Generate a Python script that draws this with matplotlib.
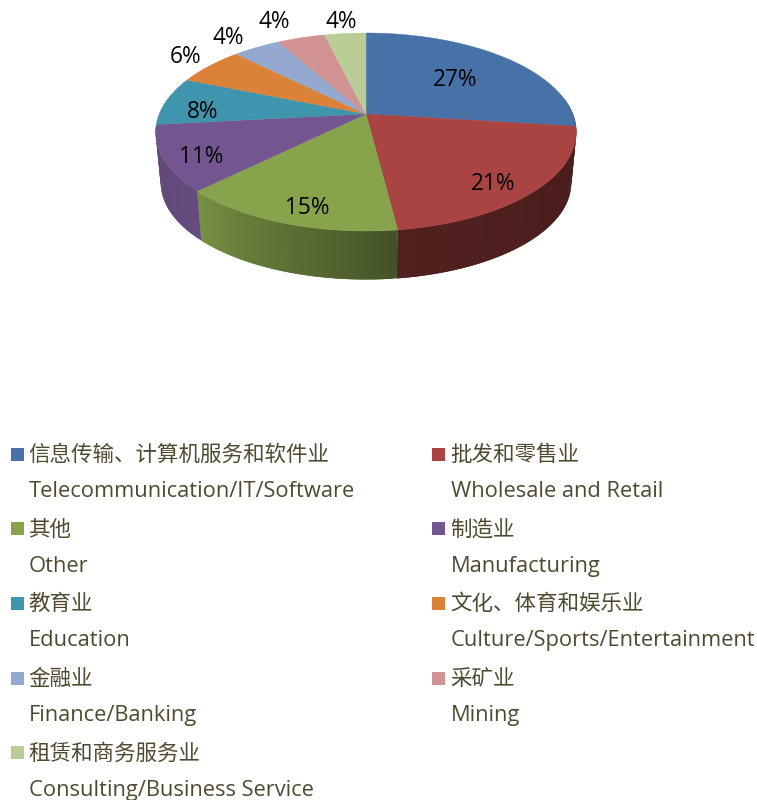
import numpy as np
import matplotlib
matplotlib.use("Agg")
import matplotlib.pyplot as plt
from matplotlib.patches import Polygon, Rectangle

cn_labels = ["信息传输、计算机服务和软件业", "批发和零售业", "其他", "制造业", "教育业",
             "文化、体育和娱乐业", "金融业", "采矿业", "租赁和商务服务业"]
en_labels = ["Telecommunication/IT/Software", "Wholesale and Retail", "Other", "Manufacturing",
             "Education", "Culture/Sports/Entertainment", "Finance/Banking", "Mining",
             "Consulting/Business Service"]
values = [27.0, 21.0, 14.6, 10.7, 7.9, 6.3, 4.3, 4.4, 3.8]
colors = ["#4672A8", "#A94442", "#87A44D", "#735690", "#4095AE", "#DB8239", "#93A9CF", "#D09292", "#BACD96"]

label_xy = [(455, 80), (493, 184), (307, 208), (201, 157), (203, 112),
            (186, 57), (228, 38), (274, 22), (341, 22)]
shade_deg = [0, 97, 172.8, 173, 225, 264, 360]
shade_val = [0.42, 0.42, 0.48, 0.50, 0.88, 0.82, 0.82]

fig = plt.figure(figsize=(7.57, 8.0), dpi=100)
ax = fig.add_axes([0, 0, 1, 1])
ax.set_xlim(0, 757)
ax.set_ylim(800, 0)
ax.axis("off")

CX, CY, RX, C, A = 366.0, 114.0, 206.8, 36 / 198, -75.0
S, Y0 = 0.976, 165.3

def top(deg):
    t = np.radians(deg)
    u, v = np.sin(t), np.cos(t)
    d = 1 + C * v
    return CX + RX * u / d, (CY + A * v) / d

def bottom(deg):
    x, y = top(deg)
    return CX + S * (x - CX), Y0 + S * (y - CY)

edges = np.concatenate([[0], np.cumsum(values)]) * 3.6
STEP = 1.0
for i, col in enumerate(colors):
    lo, hi = max(edges[i], 80), min(edges[i + 1], 263.5)
    if lo >= hi:
        continue
    base = np.array(matplotlib.colors.to_rgb(col))
    d0 = lo
    while d0 < hi:
        d1 = min(d0 + STEP, hi)
        d2 = min(d0 + 2 * STEP, hi)      # overlap into the next strip to hide seams
        f = np.interp((d0 + d1) / 2, shade_deg, shade_val)
        arc = np.linspace(d0, d2, 4)
        pts = [top(d) for d in arc] + [bottom(d) for d in arc[::-1]]
        ax.add_patch(Polygon(pts, closed=True, fc=tuple(base * f), ec="none", zorder=2))
        d0 = d1
for i, col in enumerate(colors):
    arc = np.linspace(edges[i], edges[i + 1], 60)
    pts = [(CX, CY)] + [top(d) for d in arc]
    ax.add_patch(Polygon(pts, closed=True, fc=col, ec=col, lw=0.3, zorder=3))

for v, (x, y) in zip(values, label_xy):
    ax.text(x, y, f"{round(v)}%", ha="center", va="center", fontsize=16.3, color="black",
            family=["Open Sans", "DejaVu Sans"], zorder=5)

TXT = "#4F4A2F"
for i, (cn, en, col) in enumerate(zip(cn_labels, en_labels, colors)):
    row, colm = i // 2, i % 2
    xm = 11 if colm == 0 else 432
    xt = 29 if colm == 0 else 451
    yc = 454 + row * 74.7
    ax.add_patch(Rectangle((xm, yc - 6.5), 13, 13, fc=col, ec="none", zorder=3))
    ax.text(xt - 1, yc + 1, cn, ha="left", va="center", fontsize=15.5, color=TXT, family="Noto Sans CJK SC")
    ax.text(xt, yc + 37.5, en, ha="left", va="center", fontsize=15.75, color=TXT,
            family=["Open Sans", "DejaVu Sans"])

fig.savefig("out.png", dpi=100)
